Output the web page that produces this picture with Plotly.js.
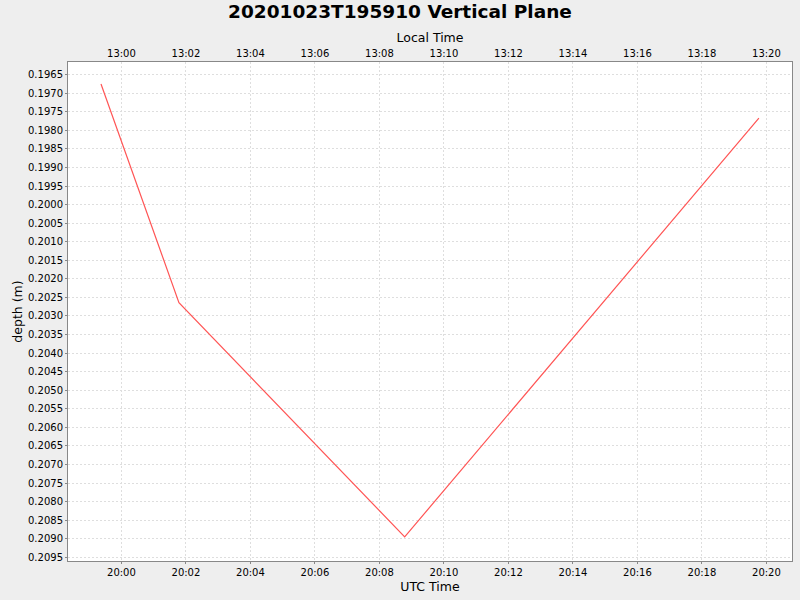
<!DOCTYPE html>
<html>
<head>
<meta charset="utf-8">
<script src="https://cdn.plot.ly/plotly-3.0.1.min.js"></script>
<style>html,body{margin:0;padding:0;background:#eeeeee;}#chart{width:800px;height:600px;}</style>
</head>
<body>
<div id="chart"></div>
<script>
var utcTimes = ['2020-10-23 19:59:22', '2020-10-23 20:01:47', '2020-10-23 20:08:47', '2020-10-23 20:19:46'];
var localTimes = ['2020-10-23 12:59:22', '2020-10-23 13:01:47', '2020-10-23 13:08:47', '2020-10-23 13:19:46'];
var depths = [0.19675, 0.20264, 0.20895, 0.19767];
var utcRange = ['2020-10-23 19:58:20.6', '2020-10-23 20:20:47.6'];
var localRange = ['2020-10-23 12:58:20.6', '2020-10-23 13:20:47.6'];
var depthRange = [0.20960, 0.196158];

var font = 'DejaVu Sans, sans-serif';
var traces = [
  {x: utcTimes, y: depths, type: 'scatter', mode: 'lines', line: {color: '#ff5555', width: 1.2}, xaxis: 'x', yaxis: 'y', hoverinfo: 'skip', showlegend: false},
  {x: localTimes, y: depths, type: 'scatter', mode: 'lines', line: {color: 'rgba(0,0,0,0)', width: 0}, xaxis: 'x2', yaxis: 'y', hoverinfo: 'skip', showlegend: false}
];
var gridStyle = {showgrid: true, gridcolor: '#dedede', griddash: '2px,2px', gridwidth: 1};
var layout = {
  width: 800, height: 600,
  paper_bgcolor: '#eeeeee', plot_bgcolor: '#ffffff',
  margin: {l: 68, r: 8, t: 62, b: 39},
  title: {text: '<b>20201023T195910 Vertical Plane</b>', x: 0.5, xanchor: 'center', y: 0.98, yanchor: 'middle', font: {family: font, size: 18.5, color: '#000'}},
  xaxis: Object.assign({
    type: 'date', range: utcRange, dtick: 120000, tick0: '2020-10-23 20:00:00', tickformat: '%H:%M',
    ticks: 'outside', ticklen: 2, tickcolor: '#888', showline: true, linecolor: '#888', linewidth: 1, mirror: true,
    tickfont: {family: font, size: 10, color: '#000'},
    title: {text: 'UTC Time', standoff: 5, font: {family: font, size: 12.5, color: '#000'}},
    zeroline: false
  }, gridStyle),
  xaxis2: {
    type: 'date', range: localRange, dtick: 120000, tick0: '2020-10-23 13:00:00', tickformat: '%H:%M',
    overlaying: 'x', side: 'top', showgrid: false, zeroline: false,
    ticks: 'outside', ticklen: 0, tickcolor: '#888', showline: false,
    tickfont: {family: font, size: 10, color: '#000'},
    title: {text: 'Local Time', standoff: 2, font: {family: font, size: 12.5, color: '#000'}}
  },
  yaxis: Object.assign({
    range: depthRange, dtick: 0.0005, tick0: 0.1965, tickformat: '.4f',
    ticks: 'outside', ticklen: 2, tickcolor: '#888', showline: true, linecolor: '#888', linewidth: 1, mirror: true,
    tickfont: {family: font, size: 10, color: '#000'},
    title: {text: 'depth (m)', standoff: 2, font: {family: font, size: 12.5, color: '#000'}},
    zeroline: false
  }, gridStyle)
};
Plotly.newPlot('chart', traces, layout, {staticPlot: true, displayModeBar: false});
</script>
</body>
</html>
